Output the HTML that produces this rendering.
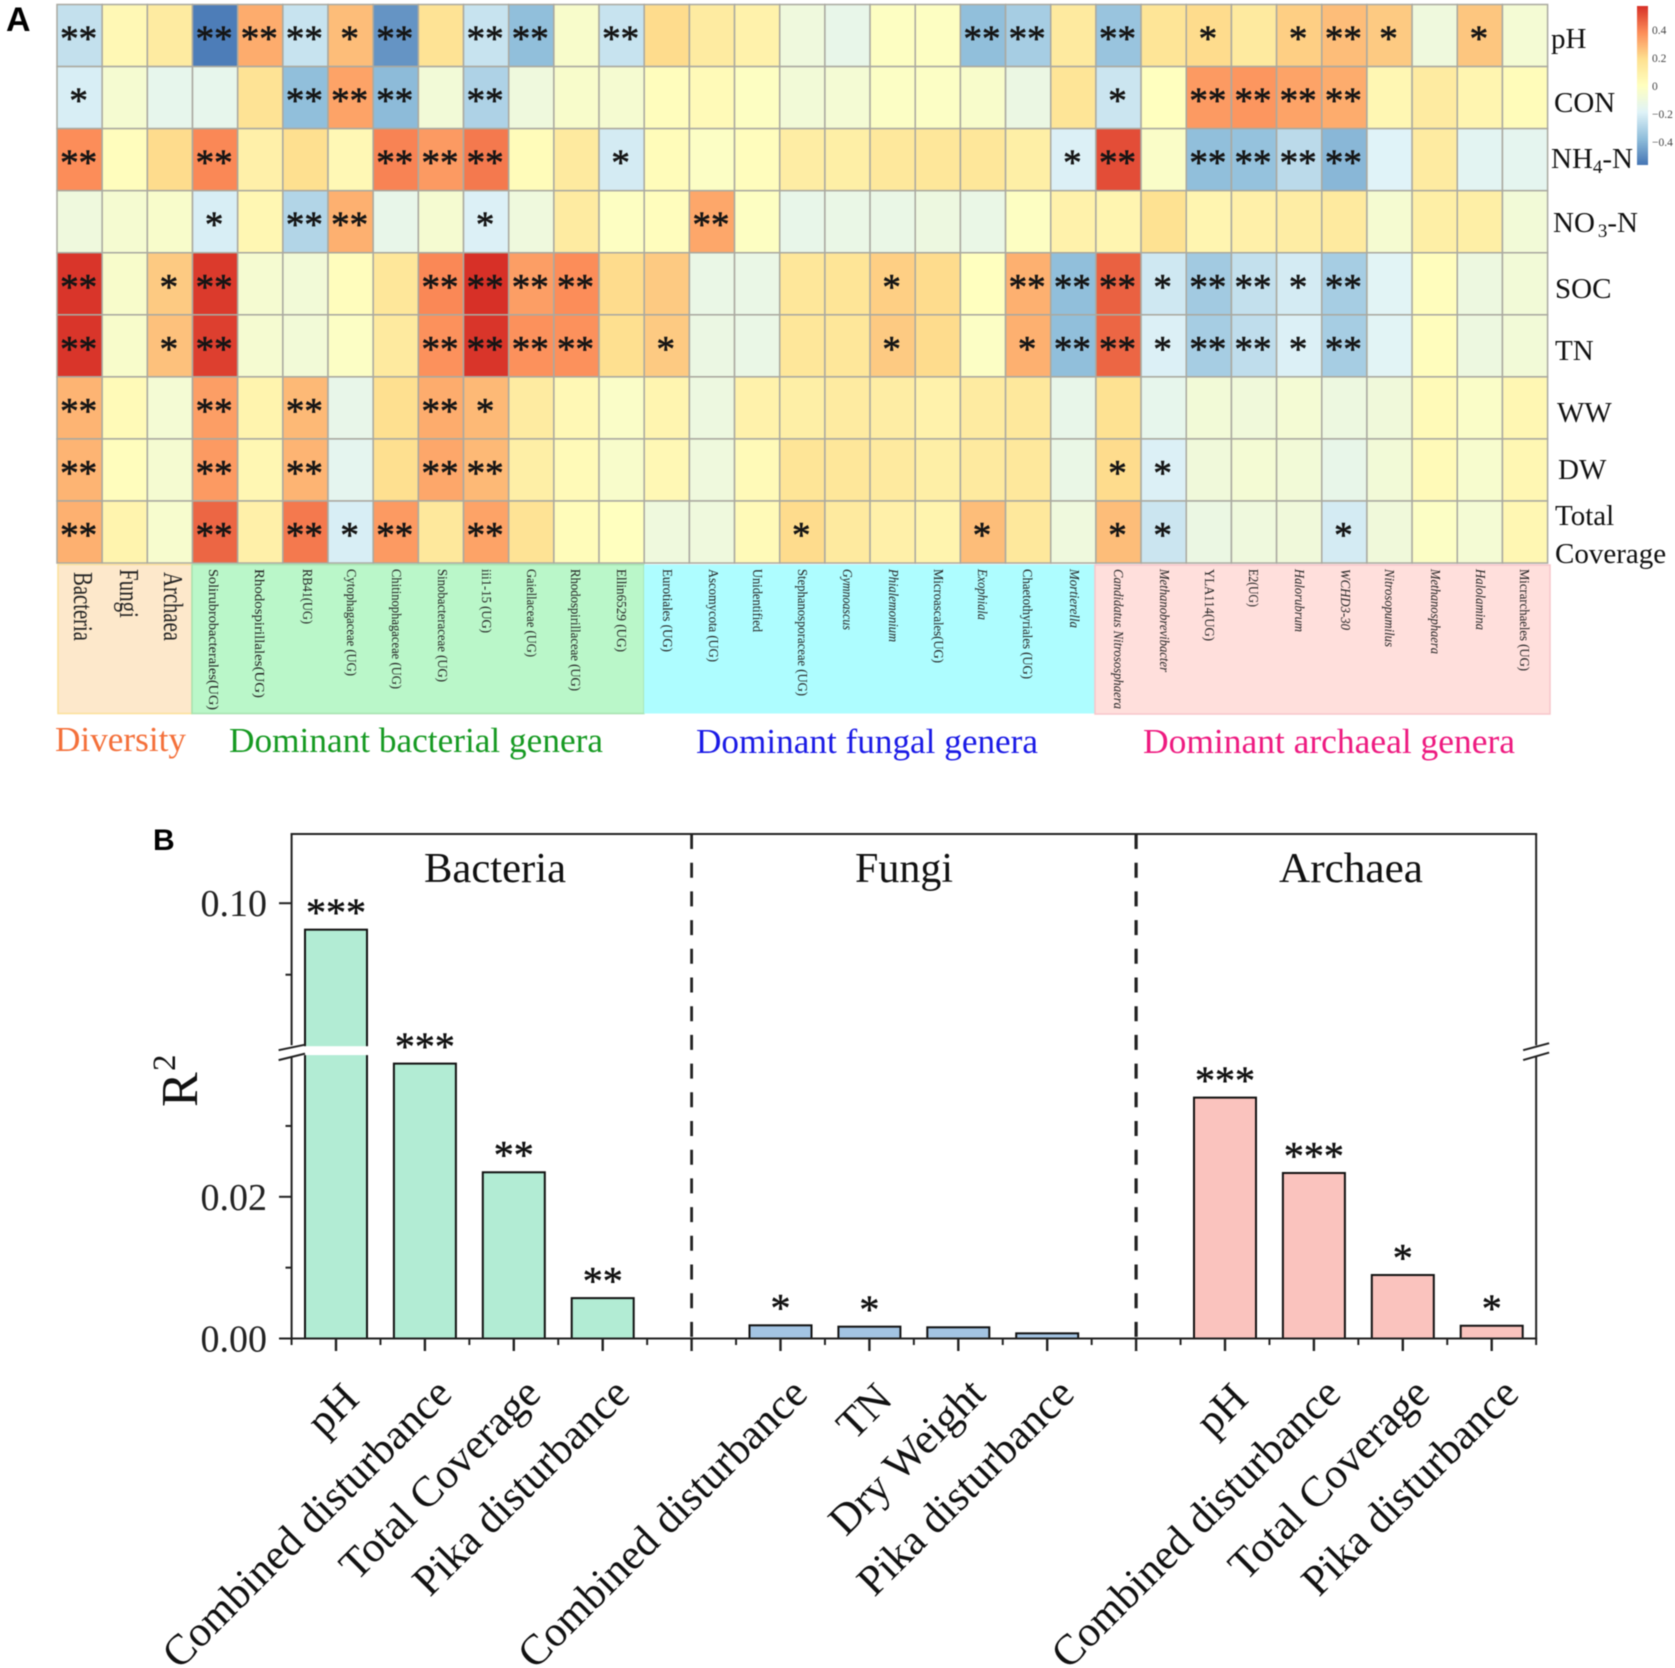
<!DOCTYPE html>
<html lang="en">
<head>
<meta charset="utf-8">
<title>Heatmap and R2 bar chart</title>
<style>
html,body{margin:0;padding:0;background:#fff;}
svg{display:block;filter:blur(0.4px);}
text{font-family:"Liberation Serif",serif;}
</style>
</head>
<body>
<svg id="figure" xmlns="http://www.w3.org/2000/svg" width="1675" height="1668" viewBox="0 0 1675 1668">
<defs>
<linearGradient id="cbar" x1="0" y1="0" x2="0" y2="1">
<stop offset="0" stop-color="#d73027"/><stop offset="0.1667" stop-color="#fc8d59"/><stop offset="0.3333" stop-color="#fee090"/><stop offset="0.5" stop-color="#ffffbf"/><stop offset="0.6667" stop-color="#e0f3f8"/><stop offset="0.8333" stop-color="#91bfdb"/><stop offset="1" stop-color="#4575b4"/>
</linearGradient>
</defs>
<rect x="0" y="0" width="1675" height="1668" fill="#fff"/>
<text x="6" y="31" style="font-family:'Liberation Sans',sans-serif;font-weight:bold;font-size:34px">A</text>
<text x="153" y="850" style="font-family:'Liberation Sans',sans-serif;font-weight:bold;font-size:30px">B</text>

<g id="heatmap"></g>
<g id="heat-stars"></g>

<g font-size="29" fill="#111">
<text x="1551" y="48">pH</text>
<text x="1554" y="112">CON</text>
<text x="1551" y="168">NH<tspan font-size="19" dy="5">4</tspan><tspan dy="-5">-N</tspan></text>
<text x="1553" y="232">NO<tspan font-size="19" dx="3" dy="5">3</tspan><tspan dy="-5">-N</tspan></text>
<text x="1555" y="298">SOC</text>
<text x="1555" y="360">TN</text>
<text x="1557" y="422">WW</text>
<text x="1558" y="479">DW</text>
<text x="1555" y="525">Total</text>
<text x="1555" y="563">Coverage</text>
</g>

<g>
<rect x="1637" y="6" width="11" height="159" fill="url(#cbar)"/>
<g id="cbar-ticks"></g>
</g>

<g>
<rect x="58" y="564.5" width="134" height="149" fill="#fde8cb" stroke="#fbe09a" stroke-width="1.5"/>
<rect x="192" y="564.5" width="452" height="149" fill="#baf7c9" stroke="#a6e2ae" stroke-width="1.5"/>
<rect x="644" y="564.5" width="451" height="149" fill="#aefdff"/>
<rect x="1095" y="565" width="455" height="149" fill="#ffdfdc" stroke="#f7c6ca" stroke-width="1.5"/>
</g>

<g fill="#222" font-size="13.5">
<text transform="translate(74,572) rotate(90) scale(1,1.3)" font-size="21" textLength="69" lengthAdjust="spacingAndGlyphs">Bacteria</text>
<text transform="translate(120,569) rotate(90) scale(1,1.3)" font-size="21" textLength="49" lengthAdjust="spacingAndGlyphs">Fungi</text>
<text transform="translate(164,572) rotate(90) scale(1,1.3)" font-size="21" textLength="69" lengthAdjust="spacingAndGlyphs">Archaea</text>
<text transform="translate(209,569) rotate(90)" textLength="141" lengthAdjust="spacingAndGlyphs">Solirubrobacterales(UG)</text>
<text transform="translate(255,569) rotate(90)" textLength="129" lengthAdjust="spacingAndGlyphs">Rhodospirillales(UG)</text>
<text transform="translate(303,569) rotate(90)" textLength="55" lengthAdjust="spacingAndGlyphs">RB41(UG)</text>
<text transform="translate(347,569) rotate(90)" textLength="107" lengthAdjust="spacingAndGlyphs">Cytophagaceae (UG)</text>
<text transform="translate(392,569) rotate(90)" textLength="120" lengthAdjust="spacingAndGlyphs">Chitinophagaceae (UG)</text>
<text transform="translate(438,569) rotate(90)" textLength="113" lengthAdjust="spacingAndGlyphs">Sinobacteraceae (UG)</text>
<text transform="translate(482,569) rotate(90)" textLength="64" lengthAdjust="spacingAndGlyphs">iii1-15 (UG)</text>
<text transform="translate(527,569) rotate(90)" textLength="88" lengthAdjust="spacingAndGlyphs">Gaiellaceae (UG)</text>
<text transform="translate(571,569) rotate(90)" textLength="122" lengthAdjust="spacingAndGlyphs">Rhodospirillaceae (UG)</text>
<text transform="translate(617,569) rotate(90)" textLength="83" lengthAdjust="spacingAndGlyphs">Ellin6529 (UG)</text>
<text transform="translate(663,569) rotate(90)" textLength="83" lengthAdjust="spacingAndGlyphs">Eurotiales (UG)</text>
<text transform="translate(709,569) rotate(90)" textLength="93" lengthAdjust="spacingAndGlyphs">Ascomycota (UG)</text>
<text transform="translate(753,569) rotate(90)" textLength="63" lengthAdjust="spacingAndGlyphs">Unidentified</text>
<text transform="translate(798,569) rotate(90)" textLength="127" lengthAdjust="spacingAndGlyphs">Stephanosporaceae (UG)</text>
<text transform="translate(843,569) rotate(90)" font-style="italic" textLength="61" lengthAdjust="spacingAndGlyphs">Gymnoascus</text>
<text transform="translate(889,569) rotate(90)" font-style="italic" textLength="73" lengthAdjust="spacingAndGlyphs">Phialemonium</text>
<text transform="translate(934,569) rotate(90)" textLength="94" lengthAdjust="spacingAndGlyphs">Microascales(UG)</text>
<text transform="translate(978,569) rotate(90)" font-style="italic" textLength="51" lengthAdjust="spacingAndGlyphs">Exophiala</text>
<text transform="translate(1023,569) rotate(90)" textLength="110" lengthAdjust="spacingAndGlyphs">Chaetothyriales (UG)</text>
<text transform="translate(1070,569) rotate(90)" font-style="italic" textLength="59" lengthAdjust="spacingAndGlyphs">Mortierella</text>
<text transform="translate(1114,569) rotate(90)" font-style="italic" textLength="140" lengthAdjust="spacingAndGlyphs">Candidatus Nitrososphaera</text>
<text transform="translate(1160,569) rotate(90)" font-style="italic" textLength="103" lengthAdjust="spacingAndGlyphs">Methanobrevibacter</text>
<text transform="translate(1205,569) rotate(90)" textLength="72" lengthAdjust="spacingAndGlyphs">YLA114(UG)</text>
<text transform="translate(1249,569) rotate(90)" textLength="38" lengthAdjust="spacingAndGlyphs">E2(UG)</text>
<text transform="translate(1295,569) rotate(90)" font-style="italic" textLength="63" lengthAdjust="spacingAndGlyphs">Halorubrum</text>
<text transform="translate(1341,569) rotate(90)" font-style="italic" textLength="61" lengthAdjust="spacingAndGlyphs">WCHD3-30</text>
<text transform="translate(1385,569) rotate(90)" font-style="italic" textLength="78" lengthAdjust="spacingAndGlyphs">Nitrosopumilus</text>
<text transform="translate(1431,569) rotate(90)" font-style="italic" textLength="85" lengthAdjust="spacingAndGlyphs">Methanosphaera</text>
<text transform="translate(1476,569) rotate(90)" font-style="italic" textLength="61" lengthAdjust="spacingAndGlyphs">Halolamina</text>
<text transform="translate(1520,569) rotate(90)" textLength="102" lengthAdjust="spacingAndGlyphs">Micrarchaeles (UG)</text>
</g>

<g font-size="35">
<text x="55" y="751" fill="#f4703a" textLength="131" lengthAdjust="spacingAndGlyphs">Diversity</text>
<text x="229" y="752" fill="#169a22" textLength="374" lengthAdjust="spacingAndGlyphs">Dominant bacterial genera</text>
<text x="696" y="753" fill="#1a1ae6" textLength="342" lengthAdjust="spacingAndGlyphs">Dominant fungal genera</text>
<text x="1143" y="753" fill="#ee1a80" textLength="372" lengthAdjust="spacingAndGlyphs">Dominant archaeal genera</text>
</g>

<g id="bars"></g>
<g id="axes"></g>

<g font-size="42" fill="#111">
<text x="424" y="882" textLength="142" lengthAdjust="spacingAndGlyphs">Bacteria</text>
<text x="855" y="882" textLength="98" lengthAdjust="spacingAndGlyphs">Fungi</text>
<text x="1279" y="882" textLength="144" lengthAdjust="spacingAndGlyphs">Archaea</text>
</g>
<g fill="#111">
<text transform="translate(197,1107) rotate(-90)" font-size="52">R</text>
<text transform="translate(175,1071) rotate(-90)" font-size="33">2</text>
</g>
</svg>

<script>
// Heatmap values, one array per environmental factor (33 columns each)
const valuesPH = [-0.26,0.04,0.12,-0.55,0.31,-0.25,0.27,-0.49,0.17,-0.25,-0.38,-0.04,-0.25,0.2,0.12,0.08,-0.1,-0.14,-0.01,-0.01,-0.38,-0.33,0.13,-0.36,0.16,0.2,0.13,0.23,0.27,0.24,-0.1,0.25,-0.07];
const valuesCON = [-0.21,-0.06,-0.15,-0.15,0.17,-0.38,0.33,-0.39,-0.08,-0.31,-0.1,-0.04,-0.06,0.01,0.03,-0.01,-0.08,-0.07,-0.02,-0.02,-0.04,-0.12,0.16,-0.24,0,0.35,0.36,0.33,0.31,0.05,0.12,0.06,0.02];
const valuesNH4 = [0.38,0.01,0.2,0.39,0.09,0.19,0.04,0.4,0.35,0.42,0.02,0.13,-0.22,0.02,-0.02,0.01,0.11,0.1,0.14,0.15,0.15,0.1,-0.2,0.51,-0.03,-0.38,-0.37,-0.28,-0.4,-0.19,0.12,-0.17,-0.16];
const valuesNO3 = [-0.1,-0.06,-0.04,-0.21,0.05,-0.3,0.3,-0.14,-0.06,-0.2,-0.1,0.12,-0.01,0.01,0.32,-0.01,-0.14,-0.13,-0.13,-0.11,-0.13,-0.01,0.08,0.06,0.18,0.06,0.09,0.11,0.13,-0.06,0.1,0.1,-0.08];
const valuesSOC = [0.56,-0.04,0.24,0.55,-0.06,-0.08,0.01,0.15,0.39,0.57,0.34,0.38,0.2,0.24,-0.13,-0.13,0.15,0.16,0.23,0.2,0,0.3,-0.38,0.47,-0.23,-0.34,-0.26,-0.22,-0.33,-0.18,0.01,-0.11,-0.08];
const valuesTN = [0.56,-0.04,0.26,0.54,-0.06,-0.08,-0.02,0.13,0.37,0.56,0.37,0.37,0.19,0.24,-0.12,-0.13,0.15,0.15,0.24,0.2,-0.02,0.3,-0.38,0.46,-0.2,-0.33,-0.27,-0.2,-0.33,-0.18,0.01,-0.11,-0.08];
const valuesWW = [0.29,0.03,-0.07,0.34,0.07,0.28,-0.14,0.19,0.31,0.28,0.12,0.04,-0.03,0.06,-0.11,0.08,0.1,0.12,0.11,0.08,0.12,0.14,-0.14,0.18,-0.15,-0.08,-0.09,-0.07,-0.11,-0.09,0.03,-0.03,0.05];
const valuesDW = [0.29,0.01,-0.06,0.35,0.05,0.29,-0.16,0.19,0.32,0.28,0.1,0.03,-0.04,0.04,-0.1,0.03,0.16,0.15,0.13,0.1,0.13,0.14,-0.13,0.2,-0.2,-0.09,-0.07,-0.08,-0.14,-0.08,0.03,-0.05,0.05];
const valuesTotal = [0.3,0.07,-0.05,0.46,0.09,0.42,-0.21,0.35,0.14,0.33,0.17,0.02,0,-0.1,-0.1,0.03,0.2,0.13,0.09,0.07,0.27,0.14,-0.1,0.27,-0.24,-0.12,-0.1,-0.09,-0.22,-0.09,-0.02,-0.07,0.05];
const heatRows = [valuesPH,valuesCON,valuesNH4,valuesNO3,valuesSOC,valuesTN,valuesWW,valuesDW,valuesTotal];

// Significance level per cell: number of asterisks
const starsPH = [2,0,0,2,2,2,1,2,0,2,2,0,2,0,0,0,0,0,0,0,2,2,0,2,0,1,0,1,2,1,0,1,0];
const starsCON = [1,0,0,0,0,2,2,2,0,2,0,0,0,0,0,0,0,0,0,0,0,0,0,1,0,2,2,2,2,0,0,0,0];
const starsNH4 = [2,0,0,2,0,0,0,2,2,2,0,0,1,0,0,0,0,0,0,0,0,0,1,2,0,2,2,2,2,0,0,0,0];
const starsNO3 = [0,0,0,1,0,2,2,0,0,1,0,0,0,0,2,0,0,0,0,0,0,0,0,0,0,0,0,0,0,0,0,0,0];
const starsSOC = [2,0,1,2,0,0,0,0,2,2,2,2,0,0,0,0,0,0,1,0,0,2,2,2,1,2,2,1,2,0,0,0,0];
const starsTN = [2,0,1,2,0,0,0,0,2,2,2,2,0,1,0,0,0,0,1,0,0,1,2,2,1,2,2,1,2,0,0,0,0];
const starsWW = [2,0,0,2,0,2,0,0,2,1,0,0,0,0,0,0,0,0,0,0,0,0,0,0,0,0,0,0,0,0,0,0,0];
const starsDW = [2,0,0,2,0,2,0,0,2,2,0,0,0,0,0,0,0,0,0,0,0,0,0,1,1,0,0,0,0,0,0,0,0];
const starsTotal = [2,0,0,2,0,2,1,2,0,2,0,0,0,0,0,0,1,0,0,0,1,0,0,1,1,0,0,0,1,0,0,0,0];
const heatStars = [starsPH,starsCON,starsNH4,starsNO3,starsSOC,starsTN,starsWW,starsDW,starsTotal];

const colorbarTicks = [0.4,0.2,0,-0.2,-0.4];
const colorbarLabels = ["0.4","0.2","0","\u22120.2","\u22120.4"];

// R2 bar chart data
const barCategories = ["pH","Combined disturbance","Total Coverage","Pika disturbance","Combined disturbance","TN","Dry Weight","Pika disturbance","pH","Combined disturbance","Total Coverage","Pika disturbance"];
const barValues = [0.0926,0.0388,0.02346,0.0057,0.00186,0.00167,0.00158,0.00073,0.0340,0.02336,0.00896,0.0018];
const barStars = ["***","***","**","**","*","*","","","***","***","*","*"];
const barGroupFills = ["#b2ecd4","#a3c4e3","#fac3be"];
const yTickValues = [0,0.02,0.10];
const yTickLabels = ["0.00","0.02","0.10"];
const yMinorTicks = [0.01,0.03,0.08];

const NS = "http://www.w3.org/2000/svg";
function make(parent, tag, attrs, text) {
  const el = document.createElementNS(NS, tag);
  for (const k in attrs) el.setAttribute(k, attrs[k]);
  if (text !== undefined) el.textContent = text;
  parent.appendChild(el);
  return el;
}

// Heatmap scales
const heatLeft = 57, heatTop = 4.5, colW = 45.17, rowH = 62.06;
function xCell(c) { return heatLeft + c * colW; }
function yCell(r) { return heatTop + r * rowH; }
const rampStops = [[69,117,180],[145,191,219],[224,243,248],[255,255,191],[254,224,144],[252,141,89],[215,48,39]];
const colorMax = 0.57;
function heatColor(v) {
  let t = (Math.max(-colorMax, Math.min(colorMax, v)) + colorMax) / (2 * colorMax) * 6;
  const i = Math.min(5, Math.floor(t));
  t -= i;
  const a = rampStops[i], b = rampStops[i + 1];
  return "rgb(" + [0,1,2].map(k => Math.round(a[k] + (b[k] - a[k]) * t)).join(",") + ")";
}

const heatG = document.getElementById("heatmap");
const starG = document.getElementById("heat-stars");
heatRows.forEach(function (row, r) {
  row.forEach(function (v, c) {
    const cell = make(heatG, "rect", {x: xCell(c), y: yCell(r), width: colW, height: rowH, fill: heatColor(v), stroke: "#aaa9a0", "stroke-width": 1.5});
    
    
    const n = heatStars[r][c];
    if (n > 0) {
      const star = make(starG, "text", {x: xCell(c) + colW / 2 - 1, y: yCell(r) + rowH / 2 + 15.5, "text-anchor": "middle", "font-size": 37, fill: "#151515", stroke: "#151515", "stroke-width": 0.6}, "*".repeat(n));
      
      
    }
  });
});

// Colorbar
const cbarG = document.getElementById("cbar-ticks");
function yCbar(v) { return 86 - v * 140; }
colorbarTicks.forEach(function (v, i) {
  const t = make(cbarG, "text", {x: 1652, y: yCbar(v) + 4, "font-size": 11.5, fill: "#444"}, colorbarLabels[i]);
  
  
});

// Bar chart scales
const baseY = 1338.5, lowerScale = 7085, y010 = 903.2, upperScale = 3575;
function yBar(v) {
  return v <= 0.04 ? baseY - v * lowerScale : y010 + (0.10 - v) * upperScale;
}
const slot0 = 336, slotW = 88.9, barW = 62;
function xSlot(s) { return slot0 + s * slotW; }
function barSlot(i) { return i + Math.floor(i / 4); }

const barsG = document.getElementById("bars");
barValues.forEach(function (v, i) {
  const cx = xSlot(barSlot(i));
  const top = yBar(v);
  const b = make(barsG, "rect", {x: cx - barW / 2, y: top, width: barW, height: baseY - top, fill: barGroupFills[Math.floor(i / 4)], stroke: "#111", "stroke-width": 2});
  
  
  if (v > 0.06) {
    const gap = make(barsG, "rect", {x: cx - barW / 2 - 2, y: yBar(0.06), width: barW + 4, height: yBar(0.04) - yBar(0.06), fill: "#fff"});
    
    
  }
  if (barStars[i]) {
    const s = make(barsG, "text", {x: cx, y: top - 22.5 + 18.8, "text-anchor": "middle", "font-size": 40, fill: "#111", stroke: "#111", "stroke-width": 0.5}, barStars[i]);
    
    
  }
  const tx = cx + (barCategories[i] === "pH" || barCategories[i] === "TN" ? 25 : 29);
  const ty = barCategories[i] === "pH" || barCategories[i] === "TN" ? 1401 : 1396;
  const lab = make(barsG, "text", {transform: "translate(" + tx + "," + ty + ") rotate(-45)", "text-anchor": "end", "font-size": 43, fill: "#111"}, barCategories[i]);
  
  
});

// Axes
const axG = document.getElementById("axes");
const axisLeft = 291.6, axisRight = xSlot(13.5), axisTop = 834, col = "#222";
function line(x1, y1, x2, y2, w, name, dash) {
  const l = make(axG, "line", {x1: x1, y1: y1, x2: x2, y2: y2, stroke: col, "stroke-width": w});
  if (dash) l.setAttribute("stroke-dasharray", dash);
  
  
  return l;
}
line(axisLeft - 1, axisTop, axisRight + 1, axisTop, 2, "axis-top");
line(279, baseY, axisRight + 1, baseY, 2, "x-axis-line");
line(axisLeft, axisTop, axisLeft, yBar(0.06) - 1, 2, "y-axis-upper");
line(axisLeft, yBar(0.04) + 1, axisLeft, baseY, 2, "y-axis-lower");
line(axisRight, axisTop, axisRight, yBar(0.06) - 1, 2, "right-axis-upper");
line(axisRight, yBar(0.04) + 1, axisRight, baseY, 2, "right-axis-lower");
// break marks
line(278.6, yBar(0.06) + 4, 305, yBar(0.06) - 1.5, 2, "y-axis-break-mark");
line(278.6, yBar(0.04) + 5, 305, yBar(0.04) - 1.5, 2, "y-axis-break-mark");
line(axisRight - 13, yBar(0.06) + 4, axisRight + 13, yBar(0.06) - 3, 2, "right-axis-break-mark");
line(axisRight - 13, yBar(0.04) + 5, axisRight + 13, yBar(0.04) - 2.5, 2, "right-axis-break-mark");
// dashed separators
line(xSlot(4), axisTop, xSlot(4), 1351, 2.8, "group-separator", "15 13.7");
line(xSlot(9), axisTop, xSlot(9), 1351, 3.2, "group-separator", "15 13.7");
// x ticks
for (let s = 0; s <= 13; s++) line(xSlot(s), baseY, xSlot(s), 1351, 2.4, "x-axis-major-tick");
for (let s = -0.5; s <= 13.5; s++) line(xSlot(s), baseY, xSlot(s), 1345, 2, "x-axis-minor-tick");
// y ticks
yTickValues.forEach(function (v, i) {
  line(279, yBar(v), axisLeft, yBar(v), 2, "y-axis-major-tick");
  const t = make(axG, "text", {x: 267, y: yBar(v) + 13, "text-anchor": "end", "font-size": 38, fill: "#222"}, yTickLabels[i]);
  
  
});
yMinorTicks.forEach(function (v) {
  line(285.5, yBar(v), axisLeft, yBar(v), 2, "y-axis-minor-tick");
});
</script>
</body>
</html>
